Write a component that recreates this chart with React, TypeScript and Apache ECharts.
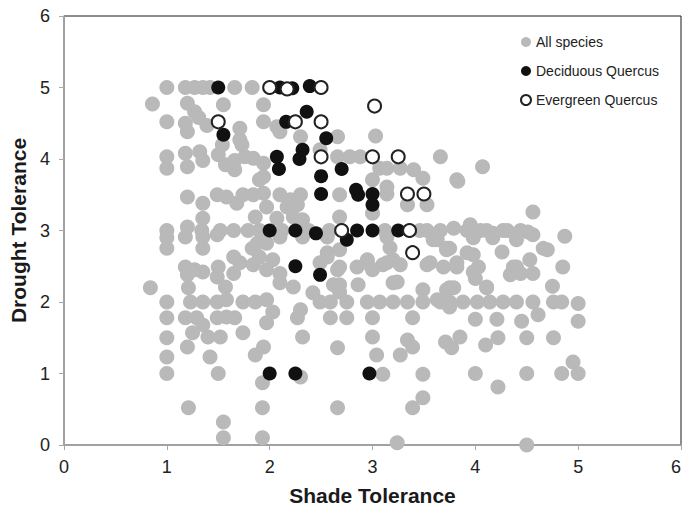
import React, { useEffect, useRef } from "react";
import * as echarts from "echarts";

const xTicks = [0, 1, 2, 3, 4, 5, 6];
const yTicks = [0, 1, 2, 3, 4, 5, 6];
const xTitle = "Shade Tolerance";
const yTitle = "Drought Tolerance";
const seriesNames = ["All species", "Deciduous Quercus", "Evergreen Quercus"];

// All species: [shade, drought]
const allSpecies: number[][] = [
  [1.0, 5.0], [1.18, 5.0], [1.27, 5.0], [1.35, 5.0], [1.42, 5.0], [1.66, 5.0], [1.83, 5.0], [0.86, 4.77],
  [1.2, 4.78], [1.27, 4.66], [1.55, 4.76], [1.94, 4.76], [1.31, 4.58],
  [1.0, 4.52], [1.18, 4.5], [1.2, 4.38], [1.39, 4.47], [1.71, 4.43], [1.94, 4.52], [2.07, 4.45], [2.1, 4.38],
  [2.3, 4.31], [2.49, 4.13], [2.66, 4.31], [3.03, 4.32],
  [1.0, 4.03], [1.0, 3.87], [1.18, 4.08], [1.2, 3.89], [1.32, 4.1], [1.35, 3.98], [1.5, 4.06], [1.57, 3.92],
  [1.66, 3.98], [1.66, 3.85], [1.73, 4.2], [1.76, 4.03], [1.84, 4.01], [1.94, 3.94], [1.94, 3.75], [1.71, 4.27],
  [1.54, 4.2], [2.66, 4.03], [2.78, 4.03], [2.88, 4.03], [3.07, 3.87], [3.14, 3.87], [3.27, 3.87], [3.4, 3.85],
  [3.49, 3.73], [3.82, 3.71], [3.66, 4.03], [3.0, 3.71], [3.14, 3.61], [4.07, 3.89], [4.56, 3.26],
  [1.2, 3.47], [1.35, 3.38], [1.49, 3.5], [1.58, 3.47], [1.68, 3.38], [1.74, 3.5], [1.84, 3.5], [1.94, 3.52],
  [2.1, 3.5], [2.17, 3.33], [2.3, 3.5], [2.27, 3.36], [2.68, 3.5], [2.68, 3.19], [3.14, 3.51], [3.0, 3.24],
  [3.34, 3.36], [3.53, 3.36], [1.9, 3.71], [1.97, 3.33], [2.2, 3.43], [2.23, 3.19], [2.32, 3.15], [2.07, 3.17],
  [1.86, 3.19], [1.35, 3.17],
  [1.0, 3.0], [1.0, 2.9], [1.2, 3.05], [1.34, 3.0], [1.52, 3.0], [1.65, 3.0], [1.79, 3.0], [1.9, 3.0],
  [2.12, 3.0], [2.38, 3.0], [2.58, 3.0], [3.12, 3.0],
  [1.0, 2.75], [1.18, 2.91], [1.35, 2.91], [1.35, 2.75], [1.49, 2.94], [1.65, 2.63], [1.65, 2.4], [1.83, 2.75],
  [1.84, 2.52], [1.71, 2.55], [1.88, 2.82],
  [1.97, 2.82], [2.1, 2.91], [2.32, 2.91], [1.9, 2.63], [2.03, 2.59], [2.56, 2.91], [3.14, 2.91], [3.63, 2.87],
  [3.75, 2.75], [2.56, 2.69], [2.68, 2.73], [2.49, 2.55], [2.66, 2.45], [2.95, 2.59], [3.2, 2.59], [3.56, 2.55],
  [1.97, 2.45], [2.1, 2.27], [2.68, 2.24], [2.23, 2.21], [2.1, 2.4],
  [3.46, 3.0], [3.53, 3.0], [3.66, 3.0], [3.79, 3.03], [3.92, 3.0], [4.05, 3.0], [4.17, 2.96], [4.31, 3.0],
  [4.44, 3.0], [4.56, 2.94], [3.95, 3.08], [4.11, 3.0], [4.27, 3.0], [4.51, 2.98], [3.98, 2.9], [4.17, 2.9],
  [4.4, 2.87], [4.87, 2.92], [4.66, 2.75], [4.26, 2.7], [3.98, 2.66], [3.82, 2.55], [4.03, 2.49], [4.0, 2.33],
  [4.34, 2.38], [4.4, 2.49], [4.53, 2.59], [4.56, 2.4], [4.85, 2.49], [4.75, 2.22], [3.75, 2.2], [4.11, 2.2],
  [3.59, 2.87], [3.72, 2.75], [3.92, 2.69], [3.69, 2.49], [3.53, 2.52], [3.82, 2.49], [3.98, 2.42], [4.11, 2.21],
  [4.37, 2.49], [4.44, 2.4], [4.7, 2.73], [3.2, 2.27], [3.79, 2.2], [2.86, 2.24], [2.62, 2.24], [2.68, 2.49],
  [2.95, 2.55], [3.1, 2.52], [3.17, 2.76], [2.56, 2.63],
  [1.18, 2.49], [1.2, 2.38], [1.27, 2.45], [1.35, 2.42], [1.5, 2.49], [1.49, 2.35], [1.57, 2.21], [1.21, 2.2],
  [0.84, 2.2],
  [1.0, 2.0], [1.0, 1.78], [1.0, 1.5], [1.0, 1.23], [1.0, 1.0], [1.23, 2.0], [1.35, 2.0], [1.49, 2.0],
  [1.58, 2.03], [1.74, 2.0], [1.86, 2.0], [1.18, 1.78], [1.29, 1.78], [1.35, 1.68], [1.25, 1.57], [1.49, 1.78],
  [1.58, 1.79], [1.66, 1.78], [1.4, 1.51], [1.52, 1.51], [1.74, 1.57], [1.2, 1.37], [1.42, 1.23], [1.5, 1.0],
  [1.86, 1.26], [1.94, 1.37], [1.93, 0.87], [1.21, 0.52], [1.55, 0.32], [1.55, 0.1], [1.93, 0.52], [1.93, 0.1],
  [1.97, 2.03], [2.03, 1.86], [1.97, 1.71], [2.27, 1.78], [2.3, 1.89], [2.42, 2.13], [2.49, 2.0], [2.59, 2.0],
  [2.59, 1.78], [2.68, 2.14], [2.75, 2.0], [2.75, 1.78], [2.95, 2.0], [3.0, 1.78], [3.0, 1.51], [3.04, 1.26],
  [3.07, 2.0], [3.2, 2.0], [3.34, 2.0], [3.24, 2.28], [2.85, 2.49], [3.0, 2.45], [3.14, 2.55], [3.27, 2.52],
  [3.34, 1.47], [3.39, 1.37], [3.27, 1.26], [3.49, 2.17], [3.49, 2.0], [3.39, 1.78], [3.71, 1.44], [3.77, 1.36],
  [3.66, 2.0], [3.72, 2.73], [3.72, 2.17], [2.66, 1.36], [2.32, 1.51], [2.3, 0.95], [3.1, 0.99], [3.49, 0.99],
  [2.66, 0.52], [3.49, 0.66], [3.39, 0.52], [3.24, 0.03],
  [3.63, 2.03], [3.75, 2.0], [3.88, 2.0], [4.02, 2.0], [4.14, 2.0], [4.27, 2.0], [4.4, 2.0], [4.56, 2.0],
  [4.76, 2.0], [4.84, 2.0], [5.0, 1.98], [5.0, 1.73], [3.75, 1.93], [4.0, 1.76], [4.21, 1.76], [4.45, 1.73],
  [4.61, 1.82], [3.85, 1.51], [4.1, 1.4], [4.22, 1.5], [4.5, 1.5], [4.76, 1.5], [4.0, 1.0], [4.22, 0.81],
  [4.5, 1.0], [4.84, 1.0], [4.95, 1.16], [5.0, 1.0], [4.5, 0.0], [3.83, 3.69],
];

const deciduousQuercus: number[][] = [
  [1.5, 5.0], [1.55, 4.34], [2.39, 5.02], [2.1, 5.0], [2.22, 4.99], [2.36, 4.66], [2.16, 4.52], [2.55, 4.29],
  [2.32, 4.13], [2.29, 4.0], [2.07, 4.03], [2.09, 3.86], [2.7, 3.86], [2.5, 3.76], [2.5, 3.51], [2.84, 3.57],
  [2.86, 3.5], [3.0, 3.51], [3.0, 3.36], [2.0, 3.0], [2.25, 3.0], [2.45, 2.96], [2.85, 3.0], [3.0, 3.0],
  [3.25, 3.0], [2.75, 2.87], [2.25, 2.5], [2.49, 2.38], [2.0, 1.0], [2.25, 1.0], [2.97, 1.0],
];

const evergreenQuercus: number[][] = [
  [2.0, 5.0], [2.17, 4.98], [2.5, 5.0], [1.5, 4.52], [2.25, 4.52], [2.5, 4.52], [3.02, 4.74], [2.5, 4.03],
  [3.0, 4.03], [3.25, 4.03], [3.34, 3.51], [3.5, 3.51], [2.7, 3.0], [3.36, 3.0], [3.39, 2.69],
];

export default function App() {
  const ref = useRef<HTMLDivElement>(null);
  useEffect(() => {
    if (!ref.current) return;
    const chart = echarts.init(ref.current, undefined, { renderer: "svg" });
    const font = "'Liberation Sans', Arial, sans-serif";
    chart.setOption({
      animation: false,
      backgroundColor: "#ffffff",
      textStyle: { fontFamily: font },
      grid: {
        left: 64,
        right: 3,
        top: 16,
        bottom: 64,
        containLabel: false,
        outerBoundsMode: "none",
        show: true,
        borderColor: "#1a1a1a",
        borderWidth: 1,
        backgroundColor: "transparent",
      },
      legend: {
        orient: "vertical",
        left: 515,
        top: 30,
        itemWidth: 10,
        itemHeight: 10,
        itemGap: 15,
        data: seriesNames,
        textStyle: { fontSize: 14, color: "#222", fontFamily: font },
      },
      xAxis: {
        type: "value",
        min: xTicks[0],
        max: xTicks[xTicks.length - 1],
        interval: 1,
        name: xTitle,
        nameLocation: "middle",
        nameGap: 40,
        nameTextStyle: { fontSize: 21, fontWeight: "bold", color: "#1a1a1a", fontFamily: font },
        axisLine: { show: true, lineStyle: { color: "#a8a8a8", width: 1.5 } },
        axisTick: { show: true, length: 5, inside: false, lineStyle: { color: "#a8a8a8" } },
        axisLabel: { fontSize: 18, color: "#222", margin: 13, alignMaxLabel: "right" },
        splitLine: { show: false },
      },
      yAxis: {
        type: "value",
        min: yTicks[0],
        max: yTicks[yTicks.length - 1],
        interval: 1,
        name: yTitle,
        nameLocation: "middle",
        nameGap: 34,
        nameTextStyle: { fontSize: 21, fontWeight: "bold", color: "#1a1a1a", fontFamily: font },
        axisLine: { show: true, lineStyle: { color: "#a8a8a8", width: 1.5 } },
        axisTick: { show: true, length: 5, inside: false, lineStyle: { color: "#a8a8a8" } },
        axisLabel: { fontSize: 18, color: "#222", margin: 14 },
        splitLine: { show: false },
      },
      series: [
        {
          name: seriesNames[0],
          type: "scatter",
          data: allSpecies,
          symbol: "circle",
          symbolSize: 15,
          itemStyle: { color: "#b9b9b9", opacity: 1 },
          z: 2,
        },
        {
          name: seriesNames[1],
          type: "scatter",
          data: deciduousQuercus,
          symbol: "circle",
          symbolSize: 14,
          itemStyle: { color: "#111111", opacity: 1 },
          z: 3,
        },
        {
          name: seriesNames[2],
          type: "scatter",
          data: evergreenQuercus,
          symbol: "circle",
          symbolSize: 13,
          itemStyle: { color: "#ffffff", borderColor: "#222222", borderWidth: 2, opacity: 1 },
          z: 4,
        },
      ],
    });
    return () => chart.dispose();
  }, []);
  return <div ref={ref} style={{ width: 684, height: 509, position: "absolute", left: 0, top: 0 }} />;
}
